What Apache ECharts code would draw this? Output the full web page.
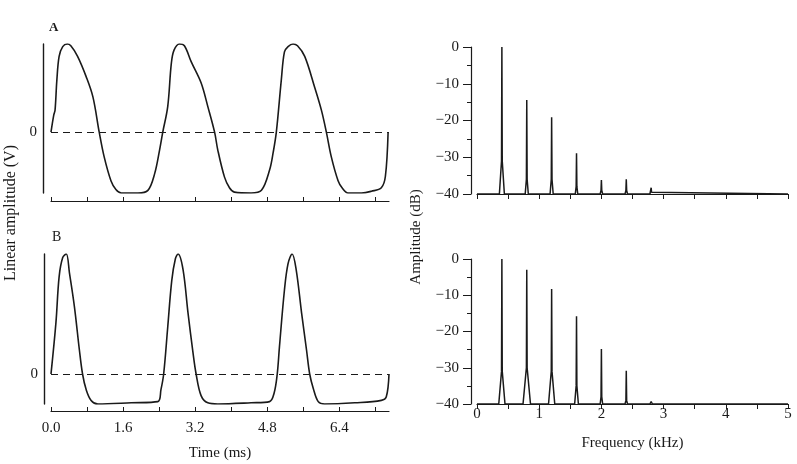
<!DOCTYPE html>
<html>
<head>
<meta charset="utf-8">
<script src="https://cdn.jsdelivr.net/npm/echarts@6/dist/echarts.min.js"></script>
<style>
  html, body { margin: 0; padding: 0; background: #fff; }
  #dom { width: 797px; height: 464px; }
</style>
</head>
<body>
<div id="dom"></div>
<script>
// panel A waveform (time in ms, amplitude normalised to the peak)
var timeA = [0, 0.06, 0.09, 0.13, 0.18, 0.26, 0.36, 0.44, 0.59, 0.78, 0.93, 1.07, 1.18, 1.33, 1.44, 1.56, 1.93, 2.15, 2.30, 2.41, 2.48, 2.59, 2.67, 2.73, 2.85,
             2.96, 3.11, 3.33, 3.48, 3.63, 3.70, 3.85, 3.96, 4.07, 4.44, 4.67, 4.85, 4.93, 5.00, 5.11, 5.18, 5.26, 5.37,
             5.47, 5.63, 5.85, 6.00, 6.11, 6.22, 6.37, 6.47, 6.59, 6.89, 7.11, 7.33, 7.42, 7.48];
var voltA = [0, 0.19, 0.25, 0.59, 0.86, 0.97, 1.0, 0.98, 0.86, 0.63, 0.40, 0, -0.28, -0.55, -0.65, -0.69, -0.69, -0.66, -0.47, -0.20, 0, 0.29, 0.78, 0.93, 1.0,
             0.98, 0.80, 0.56, 0.29, 0, -0.20, -0.51, -0.63, -0.68, -0.69, -0.66, -0.43, -0.23, 0, 0.59, 0.91, 0.97, 1.0,
             0.98, 0.86, 0.51, 0.25, 0, -0.28, -0.55, -0.64, -0.69, -0.69, -0.67, -0.63, -0.50, 0];

// panel B waveform
var timeB = [0, 0.11, 0.18, 0.26, 0.34, 0.41, 0.52, 0.63, 0.70, 0.78, 0.89, 1.04, 1.78, 2.37, 2.44, 2.50, 2.59, 2.68, 2.76, 2.82,
             2.93, 3.04, 3.15, 3.22, 3.33, 3.48, 3.70, 4.44, 4.85, 4.95, 5.02, 5.07, 5.18, 5.26, 5.35,
             5.44, 5.56, 5.67, 5.74, 5.82, 5.93, 6.07, 6.74, 7.33, 7.44, 7.50];
var voltB = [0, 0.43, 0.81, 0.97, 1.0, 0.84, 0.56, 0.20, 0, -0.13, -0.22, -0.25, -0.24, -0.23, -0.13, 0, 0.39, 0.78, 0.96, 1.0,
             0.87, 0.51, 0.18, 0, -0.18, -0.24, -0.25, -0.24, -0.23, -0.16, 0, 0.23, 0.70, 0.92, 1.0,
             0.87, 0.51, 0.20, 0, -0.12, -0.23, -0.25, -0.24, -0.22, -0.19, 0];

var timeTicks = [0, 0.8, 1.6, 2.4, 3.2, 4.0, 4.8, 5.6, 6.4, 7.2];
var freqLabels = [0, 1, 2, 3, 4, 5];

// spectra: harmonic lines (kHz, dB)
var harmFreq = [0.4, 0.8, 1.2, 1.6, 2.0, 2.4, 2.8];
var topPeakDb = [0, -14.4, -19.1, -28.9, -36.2, -36.0, -38.3];
var topSkirtDb = [-31, -36, -36, -38, -39, -39, -39.5];
var topSkirtW = [0.04, 0.025, 0.025, 0.02, 0.02, 0.02, 0.02];
var botPeakDb = [0, -3.0, -8.3, -15.8, -24.8, -30.8, -39.3];
var botSkirtDb = [-31, -30, -31, -35, -38, -39, -39.8];
var botSkirtW = [0.05, 0.06, 0.05, 0.03, 0.02, 0.02, 0.02];

function pairs(xs, ys) {
  var out = [];
  for (var i = 0; i < xs.length; i++) out.push([xs[i], ys[i]]);
  return out;
}
function spectrum(peaks, skirts, widths) {
  var out = [[0, -40]];
  for (var i = 0; i < harmFreq.length; i++) {
    var f = harmFreq[i];
    out.push([f - widths[i], -40]);
    out.push([f - 0.006, skirts[i]]);
    out.push([f, peaks[i]]);
    out.push([f + 0.006, skirts[i]]);
    out.push([f + widths[i], -40]);
  }
  out.push([5, -40]);
  return out;
}

var ink = '#1a1a1a';
var serif = 'Liberation Serif';
var zeroLine = {
  silent: true, symbol: 'none', label: { show: false },
  lineStyle: { color: ink, type: [7, 5], width: 1.2 },
  data: [{ yAxis: 0 }]
};

function timeAxis(idx, showLabels) {
  return {
    type: 'value', gridIndex: idx, min: 0, max: 7.5, offset: idx === 0 ? 8 : 7,
    splitLine: { show: false },
    axisLine: { onZero: false, lineStyle: { color: ink, width: 1.2 } },
    axisTick: { inside: true, length: 4, customValues: timeTicks, lineStyle: { color: ink } },
    axisLabel: {
      show: showLabels, customValues: timeTicks.filter(function (v, i) { return i % 2 === 0; }),
      formatter: function (v) { return v.toFixed(1); },
      color: ink, fontFamily: serif, fontSize: 15, margin: 10
    },
    name: showLabels ? 'Time (ms)' : '', nameLocation: 'middle', nameGap: 35,
    nameTextStyle: { color: ink, fontFamily: serif, fontSize: 15 }
  };
}
function voltAxis(idx, min, off) {
  return {
    type: 'value', gridIndex: idx, min: min, max: 1, offset: off,
    splitLine: { show: false },
    axisLine: { show: true, onZero: false, lineStyle: { color: ink, width: 1.4 } },
    axisTick: { show: false },
    axisLabel: { customValues: [0], color: ink, fontFamily: serif, fontSize: 15, margin: 6 }
  };
}
function freqAxis(idx, showLabels) {
  return {
    type: 'value', gridIndex: idx, min: 0, max: 5, interval: 0.5,
    splitLine: { show: false },
    axisLine: { onZero: false, lineStyle: { color: ink, width: 1.2 } },
    axisTick: { length: 5, lineStyle: { color: ink } },
    axisLabel: {
      show: showLabels, customValues: freqLabels,
      color: ink, fontFamily: serif, fontSize: 15, margin: 3
    },
    name: showLabels ? 'Frequency (kHz)' : '', nameLocation: 'middle', nameGap: 32,
    nameTextStyle: { color: ink, fontFamily: serif, fontSize: 15 }
  };
}
function dbAxis(idx) {
  return {
    type: 'value', gridIndex: idx, min: -40, max: 0, interval: 10, offset: 6,
    splitLine: { show: false },
    axisLine: { show: true, onZero: false, lineStyle: { color: ink, width: 1.2 } },
    axisTick: { show: true, length: 8, lineStyle: { color: ink } },
    minorTick: { show: true, splitNumber: 2, length: 4, lineStyle: { color: ink } },
    axisLabel: {
      formatter: function (v) { return v < 0 ? '\u2212' + (-v) : '' + v; },
      color: ink, fontFamily: serif, fontSize: 15, margin: 12
    }
  };
}

var myChart = echarts.init(document.getElementById('dom'));
var option = {
  animation: false,
  backgroundColor: '#fff',
  grid: [
    { left: 51, top: 44, width: 338, height: 149 },
    { left: 51, top: 254, width: 338, height: 150 },
    { left: 477, top: 47, width: 311, height: 147 },
    { left: 477, top: 259, width: 311, height: 145 }
  ],
  xAxis: [timeAxis(0, false), timeAxis(1, true), freqAxis(2, false), freqAxis(3, true)],
  yAxis: [voltAxis(0, -0.69, 8), voltAxis(1, -0.25, 7), dbAxis(2), dbAxis(3)],
  graphic: [
    { type: 'text', left: 49, top: 21, style: { text: 'A', fontFamily: serif, fontSize: 13, fontWeight: 'bold', fill: ink } },
    { type: 'text', left: 52, top: 230, style: { text: 'B', fontFamily: serif, fontSize: 14, fill: ink } },
    { type: 'text', x: 11, y: 213, rotation: Math.PI / 2,
      style: { text: 'Linear amplitude (V)', fontFamily: serif, fontSize: 16, fill: ink, align: 'center', verticalAlign: 'middle' } },
    { type: 'text', x: 416, y: 237, rotation: Math.PI / 2,
      style: { text: 'Amplitude (dB)', fontFamily: serif, fontSize: 15, fill: ink, align: 'center', verticalAlign: 'middle' } }
  ],
  series: [
    { type: 'line', xAxisIndex: 0, yAxisIndex: 0, data: pairs(timeA, voltA), smooth: 0.35, symbol: 'none',
      lineStyle: { color: ink, width: 1.6 }, markLine: zeroLine },
    { type: 'line', xAxisIndex: 1, yAxisIndex: 1, data: pairs(timeB, voltB), smooth: 0.35, symbol: 'none',
      lineStyle: { color: ink, width: 1.6 }, markLine: zeroLine },
    { type: 'line', xAxisIndex: 2, yAxisIndex: 2, data: spectrum(topPeakDb, topSkirtDb, topSkirtW), symbol: 'none',
      lineStyle: { color: ink, width: 1.5 } },
    { type: 'line', xAxisIndex: 3, yAxisIndex: 3, data: spectrum(botPeakDb, botSkirtDb, botSkirtW), symbol: 'none',
      lineStyle: { color: ink, width: 1.5 } }
  ]
};
myChart.setOption(option);
</script>
</body>
</html>
